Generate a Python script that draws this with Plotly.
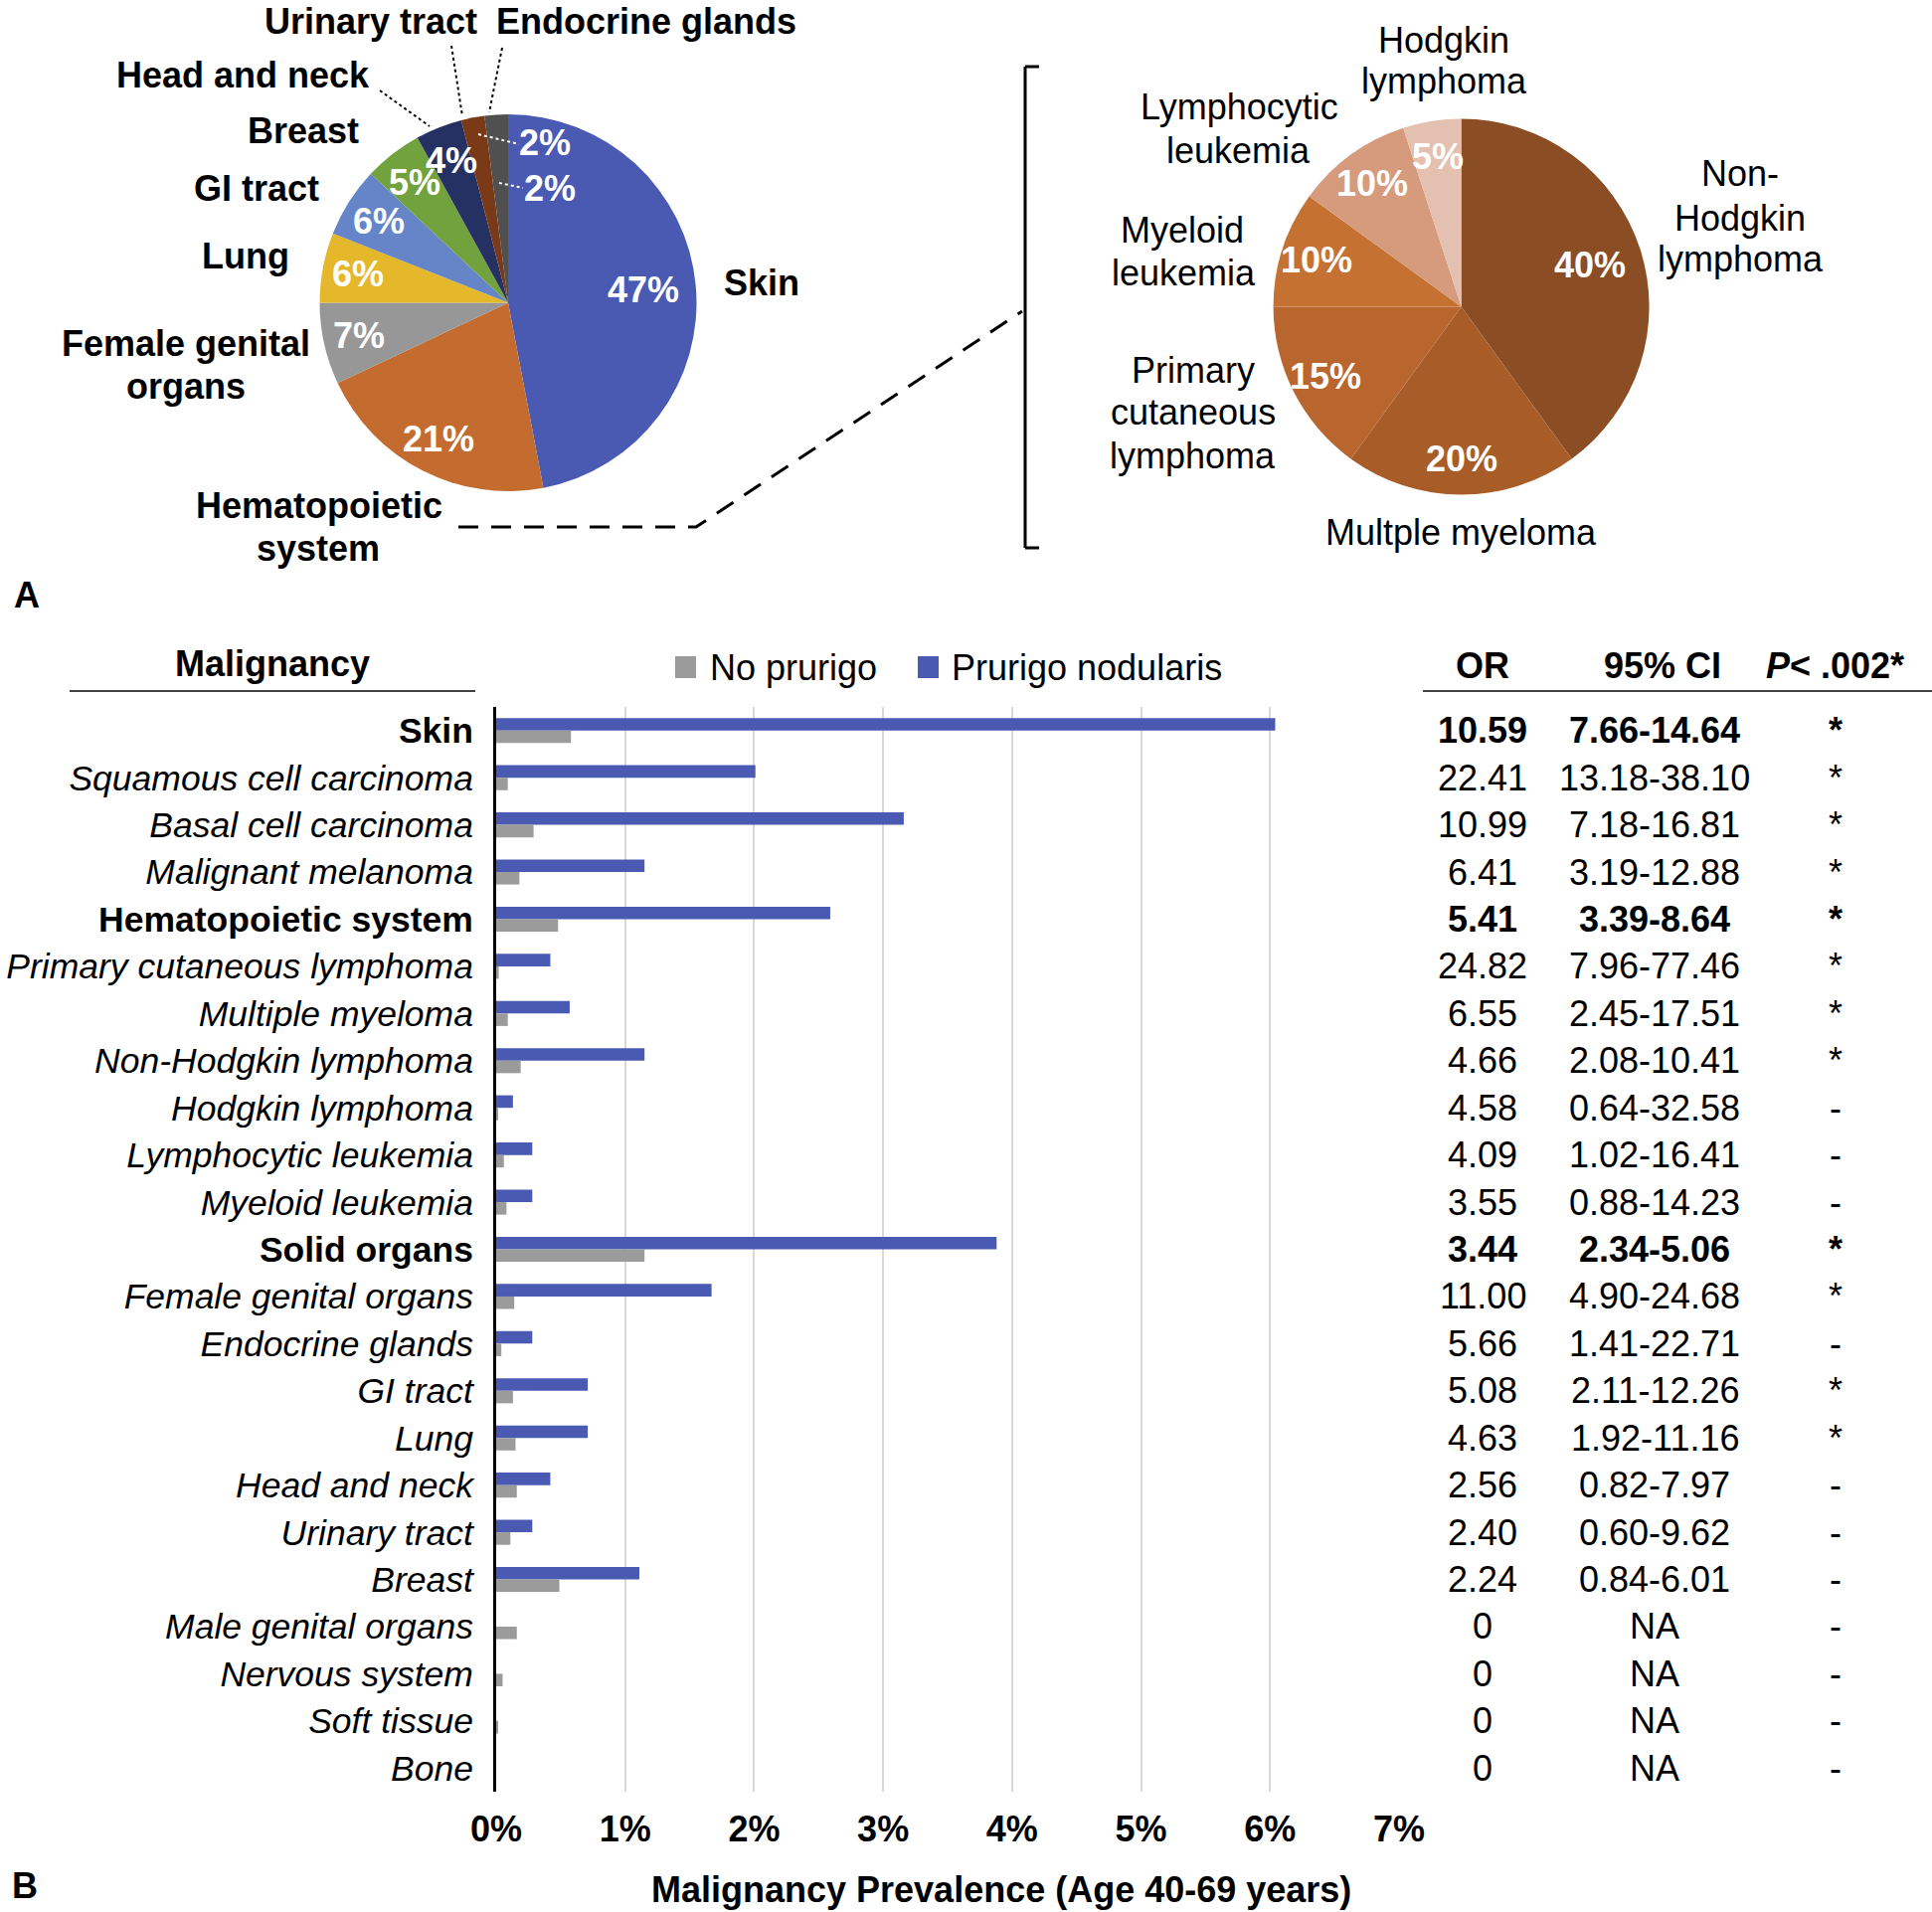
import math
import plotly.graph_objects as go

W, H = 1943, 1923
OFF = 0  # body margin removed in the page via post_script
FONT = "Liberation Sans, Arial, Helvetica, sans-serif"
FS = 36

# ------------------------- Panel A data -------------------------
main_labels = ["Skin", "Hematopoietic system", "Female genital organs", "Lung",
               "GI tract", "Breast", "Head and neck", "Urinary tract", "Endocrine glands"]
main_values = [47, 21, 7, 6, 6, 5, 4, 2, 2]
main_colors = ["#4A5AB3", "#C46C30", "#979797", "#E5B82B", "#6585C8",
               "#71A23D", "#263163", "#7A3A17", "#505050"]

hem_labels = ["Non-Hodgkin lymphoma", "Multple myeloma", "Primary cutaneous lymphoma",
              "Myeloid leukemia", "Lymphocytic leukemia", "Hodgkin lymphoma"]
hem_values = [40, 20, 15, 10, 10, 5]
hem_colors = ["#8B4D23", "#A85D29", "#B9662E", "#C57131", "#D59B7C", "#E3C0AF"]

# ------------------------- Panel B data -------------------------
categories = ["Skin", "Squamous cell carcinoma", "Basal cell carcinoma", "Malignant melanoma",
              "Hematopoietic system", "Primary cutaneous lymphoma", "Multiple myeloma",
              "Non-Hodgkin lymphoma", "Hodgkin lymphoma", "Lymphocytic leukemia",
              "Myeloid leukemia", "Solid organs", "Female genital organs", "Endocrine glands",
              "GI tract", "Lung", "Head and neck", "Urinary tract", "Breast",
              "Male genital organs", "Nervous system", "Soft tissue", "Bone"]
prurigo = [6.04, 2.01, 3.16, 1.15, 2.59, 0.42, 0.57, 1.15, 0.13, 0.28, 0.28, 3.88,
           1.67, 0.28, 0.71, 0.71, 0.42, 0.28, 1.11, 0, 0, 0, 0]
no_prurigo = [0.58, 0.09, 0.29, 0.18, 0.48, 0.02, 0.09, 0.19, 0.01, 0.06, 0.08, 1.15,
              0.14, 0.04, 0.13, 0.15, 0.16, 0.11, 0.49, 0.16, 0.05, 0.01, 0.0]
or_values = ["10.59", "22.41", "10.99", "6.41", "5.41", "24.82", "6.55", "4.66", "4.58",
             "4.09", "3.55", "3.44", "11.00", "5.66", "5.08", "4.63", "2.56", "2.40", "2.24",
             "0", "0", "0", "0"]
ci_values = ["7.66-14.64", "13.18-38.10", "7.18-16.81", "3.19-12.88", "3.39-8.64",
             "7.96-77.46", "2.45-17.51", "2.08-10.41", "0.64-32.58", "1.02-16.41",
             "0.88-14.23", "2.34-5.06", "4.90-24.68", "1.41-22.71", "2.11-12.26",
             "1.92-11.16", "0.82-7.97", "0.60-9.62", "0.84-6.01", "NA", "NA", "NA", "NA"]
significance = ["*", "*", "*", "*", "*", "*", "*", "*", "-", "-", "-", "*", "*", "-", "*",
                "*", "-", "-", "-", "-", "-", "-", "-"]
bold_rows = ["Skin", "Hematopoietic system", "Solid organs"]
x_tick_values = [0, 1, 2, 3, 4, 5, 6, 7]
x_tick_labels = ["0%", "1%", "2%", "3%", "4%", "5%", "6%", "7%"]

PN_COLOR = "#4A5AB3"
NP_COLOR = "#9B9B9B"


def px(x, y):
    """screen pixel -> paper coordinate"""
    return (x - OFF) / W, 1 - (y - OFF) / H


fig = go.Figure()
annotations = []
shapes = []


def ann(text, x, y, size=FS, color="black", xanchor="center", bold=False, italic=False):
    if bold:
        text = "<b>" + text + "</b>"
    if italic:
        text = "<i>" + text + "</i>"
    ax, ay = px(x, y)
    annotations.append(dict(text=text, x=ax, y=ay, xref="paper", yref="paper",
                            xanchor=xanchor, yanchor="middle", showarrow=False,
                            font=dict(family=FONT, size=size, color=color)))


def line(x0, y0, x1, y1, color="black", width=2, dash="solid"):
    a0, b0 = px(x0, y0)
    a1, b1 = px(x1, y1)
    shapes.append(dict(type="line", xref="paper", yref="paper", x0=a0, y0=b0, x1=a1, y1=b1,
                       line=dict(color=color, width=width, dash=dash)))


# ------------------------- Pies -------------------------
def add_pie(values, labels, colors, cx, cy, r):
    x0, y1 = px(cx - r, cy - r)
    x1, y0 = px(cx + r, cy + r)
    fig.add_trace(go.Pie(values=values, labels=labels, sort=False, direction="clockwise",
                         rotation=0, textinfo="none", hoverinfo="label+percent",
                         marker=dict(colors=colors, line=dict(width=0)),
                         domain=dict(x=[x0, x1], y=[y0, y1]), showlegend=False,
                         automargin=False))


def pct_positions(values, cx, cy, r):
    total = sum(values)
    out = []
    start = 0.0
    for v in values:
        mid = math.radians((start + v / 2) / total * 360)
        rf = 0.72 if v / total >= 0.3 else 0.81
        out.append((cx + rf * r * math.sin(mid), cy - rf * r * math.cos(mid)))
        start += v
    return out


MCX, MCY, MR = 511, 304.5, 189.5
HCX, HCY, HR = 1469.6, 308.5, 189

add_pie(main_values, main_labels, main_colors, MCX, MCY, MR)
add_pie(hem_values, hem_labels, hem_colors, HCX, HCY, HR)

# percent labels, main pie
main_pos = pct_positions(main_values, MCX, MCY, MR)
small_label_pos = {7: (548, 143), 8: (553, 189)}
small_leaders = {7: (481, 135, 522, 145), 8: (502, 184, 526, 189)}
for i, v in enumerate(main_values):
    if i in small_label_pos:
        lx, ly = small_label_pos[i]
        x0, y0, x1, y1 = small_leaders[i]
        line(x0, y0, x1, y1, color="white", width=2, dash="dot")
    else:
        lx, ly = main_pos[i]
    ann(f"{v}%", lx, ly, color="white", bold=True)

for (lx, ly), v in zip(pct_positions(hem_values, HCX, HCY, HR), hem_values):
    ann(f"{v}%", lx, ly, color="white", bold=True)

# category labels, main pie (bold)
ann("Urinary tract", 373, 22, bold=True)
ann("Endocrine glands", 650, 22, bold=True)
ann("Head and neck", 245, 75, bold=True)
ann("Breast", 305, 131, bold=True)
ann("GI tract", 258, 189, bold=True)
ann("Lung", 247, 257, bold=True)
ann("Female genital", 187, 345, bold=True)
ann("organs", 187, 389, bold=True)
ann("Skin", 766, 284, bold=True)
ann("Hematopoietic", 321, 508, bold=True)
ann("system", 320, 551, bold=True)

# leader lines (black dotted)
line(382, 91, 432, 127, dash="dot")
line(454, 46, 465, 117, dash="dot")
line(505, 48, 492, 113, dash="dot")

# category labels, hematopoietic pie
ann("Hodgkin", 1452, 41)
ann("lymphoma", 1452, 82)
ann("Lymphocytic", 1246, 108)
ann("leukemia", 1245, 151)
ann("Myeloid", 1189, 232)
ann("leukemia", 1190, 275)
ann("Primary", 1200, 372)
ann("cutaneous", 1200, 415)
ann("lymphoma", 1199, 458)
ann("Multple myeloma", 1469, 535)
ann("Non-", 1750, 175)
ann("Hodgkin", 1750, 219)
ann("lymphoma", 1750, 261)

# dashed connector + bracket
d0 = px(461, 530)
d1 = px(700, 530)
d2 = px(1028, 313)
shapes.append(dict(type="path", xref="paper", yref="paper",
                   path=f"M {d0[0]},{d0[1]} L {d1[0]},{d1[1]} L {d2[0]},{d2[1]}",
                   line=dict(color="black", width=3, dash="20px,13px")))
line(1031, 67, 1031, 551, width=3)
line(1031, 67, 1045, 67, width=3)
line(1031, 551, 1045, 551, width=3)

ann("A", 27, 598, bold=True)
ann("B", 25, 1896, bold=True)

# ------------------------- Panel B bars -------------------------
fig.add_trace(go.Bar(orientation="h", y=categories, x=prurigo, name="Prurigo nodularis",
                     marker=dict(color=PN_COLOR, line=dict(width=0)), showlegend=False,
                     xaxis="x", yaxis="y"))
fig.add_trace(go.Bar(orientation="h", y=categories, x=no_prurigo, name="No prurigo",
                     marker=dict(color=NP_COLOR, line=dict(width=0)), showlegend=False,
                     xaxis="x", yaxis="y"))

ticktext = [f"<b>{c}</b>" if c in bold_rows else f"<i>{c}</i>" for c in categories]

xd0, _ = px(499, 0)
xd1, _ = px(1407, 0)
_, yd1 = px(0, 711)
_, yd0 = px(0, 1802)

# table rows
for c, o, ci, s in zip(categories, or_values, ci_values, significance):
    b = c in bold_rows
    for text, xc in ((o, 1491), (ci, 1664), (s, 1846)):
        t = f"<b>{text}</b>" if b else text
        annotations.append(dict(text=t, x=px(xc, 0)[0], y=c, xref="paper", yref="y",
                                xanchor="center", yanchor="middle", showarrow=False,
                                font=dict(family=FONT, size=FS, color="black")))

# headers
ann("Malignancy", 274, 667, bold=True)
line(70, 695, 478, 695, color="#404040", width=2)
ann("OR", 1491, 669, bold=True)
ann("95% CI", 1672, 669, bold=True)
ann("<i>P</i>&lt; .002*", 1845, 669, bold=True)
line(1431, 695, 1943, 695, color="#404040", width=2)

# legend
for (x0, col), (tx, label) in zip(((679, NP_COLOR), (923, PN_COLOR)),
                                  ((712, "No prurigo"), (955, "Prurigo nodularis"))):
    a0, b0 = px(x0, 682)
    a1, b1 = px(x0 + 21, 660)
    shapes.append(dict(type="rect", xref="paper", yref="paper", x0=a0, y0=b0, x1=a1, y1=b1,
                       fillcolor=col, line=dict(width=0)))
    ann(label, tx, 671, xanchor="left")

# x axis title
ann("Malignancy Prevalence (Age 40-69 years)", 1007, 1900, bold=True)

fig.update_layout(
    width=W, height=H,
    autosize=False,
    margin=dict(l=0, r=0, t=0, b=0, pad=0, autoexpand=False),
    paper_bgcolor="white", plot_bgcolor="white",
    barmode="group", bargap=0.47, bargroupgap=0,
    font=dict(family=FONT, size=FS, color="black"),
    xaxis=dict(domain=[xd0, xd1], range=[0, 7], anchor="y", automargin=False,
               tickvals=x_tick_values, ticktext=[f"<b>{t}</b>" for t in x_tick_labels],
               showgrid=True, gridcolor="#D9D9D9", gridwidth=2, zeroline=False,
               showline=False, ticks="", ticklabelstandoff=13,
               tickfont=dict(family=FONT, size=FS, color="black")),
    yaxis=dict(domain=[yd0, yd1], type="category", categoryorder="array",
               categoryarray=categories, autorange="reversed", anchor="x", automargin=False,
               tickvals=categories, ticktext=ticktext, showgrid=False, zeroline=False,
               showline=True, linecolor="black", linewidth=3, ticks="",
               ticklabelstandoff=13,
               tickfont=dict(family=FONT, size=35.5, color="black")),
    annotations=annotations,
    shapes=shapes,
)

fig.write_html("out.html", config={"displayModeBar": False},
               post_script="document.body.style.margin='0';document.body.style.overflow='hidden';")
